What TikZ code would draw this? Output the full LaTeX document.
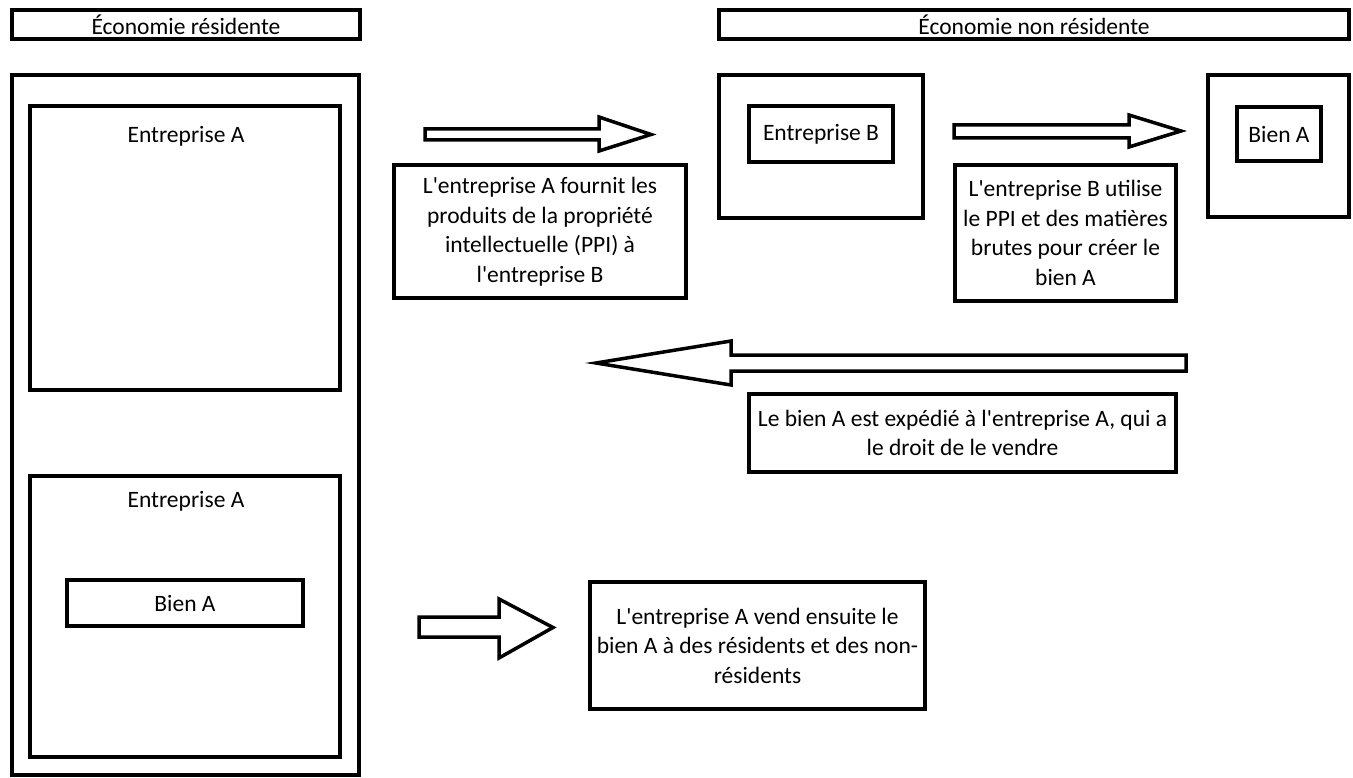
\documentclass[tikz,border=0pt]{standalone}
\usepackage{fontspec}
\setmainfont{Carlito}[Ligatures=TeXOff]
\begin{document}
\begin{tikzpicture}[x=1pt,y=-1pt,
  txt/.style={font=\fontsize{23.5}{29.5}\selectfont},
  box/.style={draw, line width=3.5pt, inner sep=0pt, outer sep=0pt, align=center, txt},
  lbl/.style={inner sep=0pt, txt},
  blockarrow/.style={draw, line width=3.5pt, line join=miter, miter limit=20, fill=white}]
\useasboundingbox (0,0) rectangle (1353,778);
% headers
\node[box, minimum width=348pt, minimum height=29pt] (hdrL) at (186,24.5) {Économie résidente};
\node[box, minimum width=630pt, minimum height=29pt] (hdrR) at (1034,24.5) {Économie non résidente};
% left column
\node[box, minimum width=347pt, minimum height=700pt] (bigL) at (185.5,425) {};
\node[box, minimum width=310pt, minimum height=284pt] (entA1) at (185,248) {};
\node[lbl, anchor=base] (tA1) at (186,143) {Entreprise A};
\node[box, minimum width=310pt, minimum height=281pt] (entA2) at (185,616.5) {};
\node[lbl, anchor=base] (tA2) at (186,507) {Entreprise A};
\node[box, minimum width=236pt, minimum height=46pt] (bienA1) at (185,603) {Bien A};
% texts
\node[box, minimum width=292pt, minimum height=133pt] (text1) at (540,231.5) {L'entreprise A fournit les\\produits de la propriété\\intellectuelle (PPI) à\\l'entreprise B};
\node[box, minimum width=221pt, minimum height=136pt] (text2) at (1065.5,233) {L'entreprise B utilise\\le PPI et des matières\\brutes pour créer le\\bien A};
\node[box, minimum width=427pt, minimum height=78pt] (text3) at (962.5,433) {Le bien A est expédié à l'entreprise A, qui a\\le droit de le vendre};
\node[box, minimum width=335pt, minimum height=127pt] (text4) at (757.5,645.5) {L'entreprise A vend ensuite le\\bien A à des résidents et des non-\\résidents};
% non-resident
\node[box, minimum width=204pt, minimum height=143pt] (entBo) at (821,146.5) {};
\node[box, minimum width=144pt, minimum height=56pt] (entBi) at (821,134) {Entreprise B};
\node[box, minimum width=141pt, minimum height=142pt] (bienBo) at (1278.5,146) {};
\node[box, minimum width=84pt, minimum height=54pt] (bienBi) at (1279,134) {Bien A};
% block arrows
\draw[blockarrow] (425,129) -- (599,129) -- (599,117) -- (651,134.5) -- (599,151) -- (599,140) -- (425,140) -- cycle;
\draw[blockarrow] (954,125) -- (1129,125) -- (1129,115) -- (1181,131) -- (1129,147) -- (1129,138) -- (954,138) -- cycle;
\draw[blockarrow] (1186,355) -- (731,355) -- (731,341) -- (596,363) -- (731,385) -- (731,371) -- (1186,371) -- cycle;
\draw[blockarrow] (419,617) -- (499,617) -- (499,599) -- (553,627.5) -- (499,658) -- (499,637) -- (419,637) -- cycle;
\end{tikzpicture}
\end{document}
